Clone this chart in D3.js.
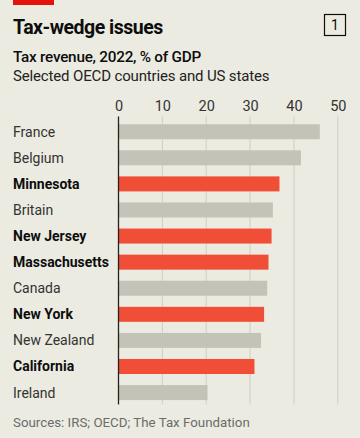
<!DOCTYPE html>
<html><head><meta charset="utf-8">
<script src="https://cdn.jsdelivr.net/npm/d3@7"></script>
<style>
html,body{margin:0;padding:0;background:#ecebe1;}
svg{display:block;font-family:Roboto,"Noto Sans",sans-serif;}
</style></head>
<body>
<script>
const categories = ["France","Belgium","Minnesota","Britain","New Jersey","Massachusetts","Canada","New York","New Zealand","California","Ireland"];
const values = [45.9,41.6,36.7,35.2,34.9,34.2,33.9,33.2,32.5,31.0,20.3];
const isState = [false,false,true,false,true,true,false,true,false,true,false];
const ticks = [0,10,20,30,40,50];

(function(){
const W=360,H=438;
const svg=d3.select("body").append("svg").attr("width",W).attr("height",H);
svg.append("rect").attr("width",W).attr("height",H).attr("fill","#ecebe1");
svg.append("rect").attr("x",13).attr("y",0).attr("width",41).attr("height",5).attr("fill","#e3120b");

svg.append("text").attr("x",13).attr("y",33.5).attr("font-size",19.5).attr("font-weight",700).attr("fill","#0d0d0d").attr("letter-spacing",-0.5).text("Tax-wedge issues");
svg.append("rect").attr("x",324.5).attr("y",14.5).attr("width",21).attr("height",21).attr("fill","none").attr("stroke","#0d0d0d").attr("stroke-width",1.2);
svg.append("text").attr("x",335).attr("y",30).attr("text-anchor","middle").attr("font-size",14).attr("fill","#0d0d0d").text("1");
svg.append("text").attr("x",13).attr("y",62).attr("font-size",15.3).attr("font-weight",500).attr("fill","#0d0d0d").attr("letter-spacing",-0.25).text("Tax revenue, 2022, % of GDP");
svg.append("text").attr("x",13).attr("y",81).attr("font-size",15).attr("fill","#222").attr("letter-spacing",-0.15).text("Selected OECD countries and US states");

const x=d3.scaleLinear().domain([0,50]).range([118.5,337.8]);
const y=d3.scaleBand().domain(categories).range([119,405.3]).paddingInner(0.425).paddingOuter(0.2);

const yTop=116.5,yBot=404.5;
svg.append("g").selectAll("line").data(ticks.filter(t=>t>0)).join("line")
 .attr("x1",d=>x(d)).attr("x2",d=>x(d)).attr("y1",yTop).attr("y2",yBot)
 .attr("stroke","#cfcec4").attr("stroke-width",1);

const axis=d3.axisTop(x).tickValues(ticks).tickSize(0).tickPadding(0);
const ag=svg.append("g").attr("transform",`translate(0,111)`).call(axis);
ag.select(".domain").remove();
ag.selectAll("text").attr("font-size",14.5).attr("fill","#333").attr("font-family","Roboto,sans-serif").attr("dy",0);

svg.append("g").selectAll("rect").data(categories).join("rect")
 .attr("x",x(0)).attr("y",d=>y(d)).attr("height",y.bandwidth())
 .attr("width",(d,i)=>x(values[i])-x(0))
 .attr("fill",(d,i)=>isState[i]?"#f04e37":"#c4c3b7");

svg.append("line").attr("x1",x(0)).attr("x2",x(0)).attr("y1",yTop).attr("y2",yBot).attr("stroke","#222").attr("stroke-width",1.3);

svg.append("g").selectAll("text").data(categories).join("text")
 .attr("x",13).attr("y",d=>y(d)+y.bandwidth()/2+5)
 .attr("font-size",14).attr("font-weight",(d,i)=>isState[i]?700:400)
 .attr("fill",(d,i)=>isState[i]?"#0d0d0d":"#333")
 .text(d=>d);

svg.append("text").attr("x",13).attr("y",427).attr("font-size",13.3).attr("fill","#6b6b6b").text("Sources: IRS; OECD; The Tax Foundation");
})();
</script>
</body></html>
